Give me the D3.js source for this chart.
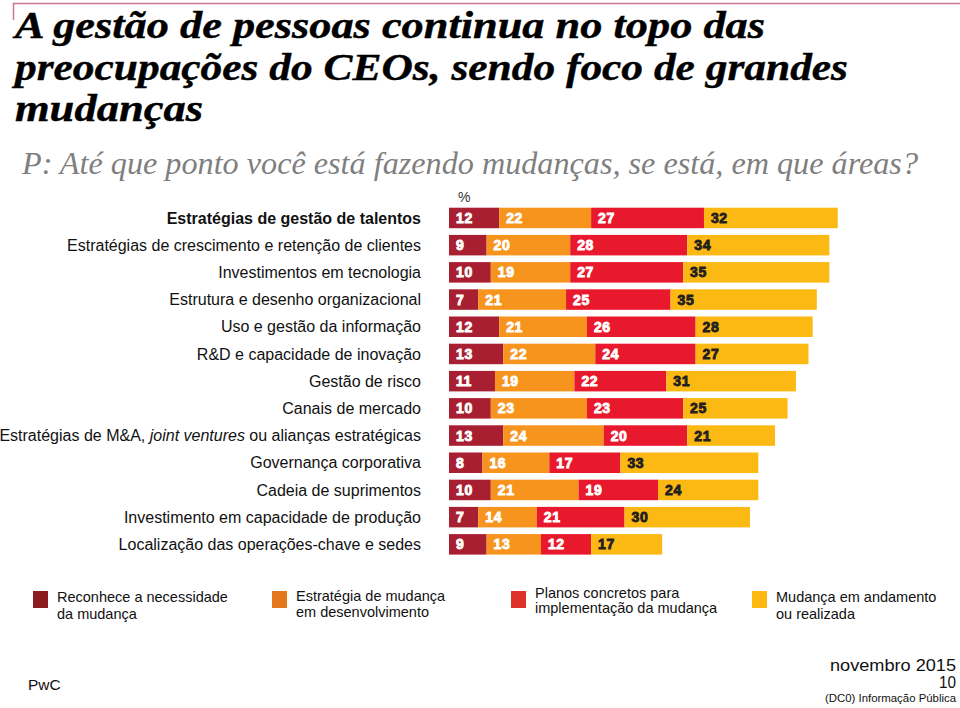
<!DOCTYPE html>
<html>
<head>
<meta charset="utf-8">
<script src="https://cdn.jsdelivr.net/npm/d3@7"></script>
<style>
  html, body { margin: 0; padding: 0; background: #fff; }
  svg { display: block; }
</style>
</head>
<body>
<svg id="chart" width="960" height="708"></svg>
<script>
// ---- Data ----
const categories = [
  "Estratégias de gestão de talentos",
  "Estratégias de  crescimento e retenção de clientes",
  "Investimentos em tecnologia",
  "Estrutura e desenho organizacional",
  "Uso e gestão da informação",
  "R&D e capacidade de inovação",
  "Gestão de risco",
  "Canais de mercado",
  "Estratégias de M&A, joint ventures ou alianças estratégicas",
  "Governança corporativa",
  "Cadeia de suprimentos",
  "Investimento em capacidade de produção",
  "Localização das operações-chave e sedes"
];
const reconhece  = [12, 9, 10, 7, 12, 13, 11, 10, 13, 8, 10, 7, 9];
const estrategia = [22, 20, 19, 21, 21, 22, 19, 23, 24, 16, 21, 14, 13];
const planos     = [27, 28, 27, 25, 26, 24, 22, 23, 20, 17, 19, 21, 12];
const andamento  = [32, 34, 35, 35, 28, 27, 31, 25, 21, 33, 24, 30, 17];

const seriesNames = [
  ["Reconhece a necessidade", "da mudança"],
  ["Estratégia de mudança", "em desenvolvimento"],
  ["Planos concretos para", "implementação da mudança"],
  ["Mudança em andamento", "ou realizada"]
];
const seriesKeys = ["reconhece", "estrategia", "planos", "andamento"];
const barColors = ["#A91F32", "#F7941D", "#E8192C", "#FDB913"];
const legendColors = ["#8C1B1E", "#E3771A", "#E0302A", "#FFB80F"];
const labelColors = ["#ffffff", "#ffffff", "#ffffff", "#231F20"];

const titleLines = [
  "A gestão de pessoas continua no topo das",
  "preocupações do CEOs, sendo foco de grandes",
  "mudanças"
];
const subtitle = "P: Até que ponto você está fazendo mudanças, se está, em que áreas?";

// ---- Build table ----
const table = categories.map((c, i) => ({
  category: c,
  reconhece: reconhece[i],
  estrategia: estrategia[i],
  planos: planos[i],
  andamento: andamento[i]
}));
const stacked = d3.stack().keys(seriesKeys)(table);

const svg = d3.select("#chart");
const sans = "'Liberation Sans', Arial, sans-serif";

// ---- Decorative top line ----
svg.append("path")
  .attr("d", "M13.5,20 V3.5 H960")
  .attr("fill", "none")
  .attr("stroke", "#C9778B")
  .attr("stroke-width", 1.5);

// ---- Title ----
const titleWidths = [750, 833, 188];
const titleBase = [38, 80, 121];
titleLines.forEach((t, i) => {
  svg.append("text")
    .attr("x", 15).attr("y", titleBase[i])
    .attr("font-family", "'Liberation Serif', 'Times New Roman', serif")
    .attr("font-style", "italic").attr("font-weight", "bold")
    .attr("font-size", 37)
    .attr("textLength", titleWidths[i])
    .attr("lengthAdjust", "spacingAndGlyphs")
    .attr("fill", "#000")
    .attr("stroke", "#000")
    .attr("stroke-width", 0.4)
    .text(t);
});
svg.append("text")
  .attr("x", 22).attr("y", 174)
  .attr("font-family", "'Liberation Serif', 'Times New Roman', serif")
  .attr("font-style", "italic")
  .attr("font-size", 31)
  .attr("textLength", 896)
  .attr("lengthAdjust", "spacingAndGlyphs")
  .attr("fill", "#7f7f7f")
  .text(subtitle);

// ---- Scales ----
const x = d3.scaleLinear().domain([0, 100]).range([449, 867]);
const y = d3.scaleBand().domain(categories).range([207.7, 554.6]).paddingInner(0.246).paddingOuter(0);

// ---- Category labels ----
const labels = svg.append("g");
categories.forEach((c, i) => {
  const t = labels.append("text")
    .attr("x", 421)
    .attr("y", y(c) + y.bandwidth() / 2)
    .attr("dy", "0.35em")
    .attr("text-anchor", "end")
    .attr("font-family", sans)
    .attr("font-size", 16)
    .attr("font-weight", i === 0 ? "bold" : "normal")
    .attr("fill", "#111");
  if (c.includes("joint ventures")) {
    const parts = c.split("joint ventures");
    t.append("tspan").text(parts[0]);
    t.append("tspan").attr("font-style", "italic").text("joint ventures");
    t.append("tspan").text(parts[1]);
  } else {
    t.text(c);
  }
});

// ---- % label ----
svg.append("text")
  .attr("x", x(0) + 9).attr("y", 202)
  .attr("font-family", sans).attr("font-size", 14)
  .attr("fill", "#333")
  .text("%");

// ---- Bars ----
const layers = svg.append("g").selectAll("g")
  .data(stacked)
  .join("g")
  .attr("fill", (d, i) => barColors[i]);

layers.selectAll("rect")
  .data(d => d)
  .join("rect")
  .attr("x", d => x(d[0]))
  .attr("y", d => y(d.data.category))
  .attr("width", d => x(d[1]) - x(d[0]))
  .attr("height", y.bandwidth());

// ---- Value labels ----
stacked.forEach((layer, li) => {
  svg.append("g").selectAll("text")
    .data(layer)
    .join("text")
    .attr("x", d => x(d[0]) + 7)
    .attr("y", d => y(d.data.category) + y.bandwidth() / 2)
    .attr("dy", "0.36em")
    .attr("font-family", sans)
    .attr("font-weight", "bold")
    .attr("font-size", 14)
    .attr("letter-spacing", 0.6)
    .attr("fill", labelColors[li])
    .attr("stroke", labelColors[li])
    .attr("stroke-width", 0.9)
    .text(d => d.data[layer.key]);
});

// ---- Legend ----
const legendX = [33, 272, 511, 752];
const legendTextY = [[602, 619], [601, 617], [598, 613], [602, 619]];
seriesNames.forEach((lines, i) => {
  const g = svg.append("g");
  g.append("rect")
    .attr("x", legendX[i]).attr("y", 591)
    .attr("width", 15).attr("height", 17)
    .attr("fill", legendColors[i]);
  lines.forEach((l, j) => {
    g.append("text")
      .attr("x", legendX[i] + 24)
      .attr("y", legendTextY[i][j])
      .attr("font-family", sans)
      .attr("font-size", 14.5)
      .attr("fill", "#111")
      .text(l);
  });
});

// ---- Footer ----
svg.append("text")
  .attr("x", 28).attr("y", 690)
  .attr("font-family", sans).attr("font-size", 15.5)
  .attr("fill", "#111").text("PwC");
const footerRight = [
  ["novembro 2015", 671, 16, 126],
  ["10", 688, 16, 17],
  ["(DC0) Informação Pública", 702, 11.5, 131]
];
footerRight.forEach(([t, yy, fs, w]) => {
  svg.append("text")
    .attr("x", 956).attr("y", yy)
    .attr("text-anchor", "end")
    .attr("font-family", sans).attr("font-size", fs)
    .attr("textLength", w)
    .attr("lengthAdjust", "spacingAndGlyphs")
    .attr("fill", "#111").text(t);
});
</script>
</body>
</html>
